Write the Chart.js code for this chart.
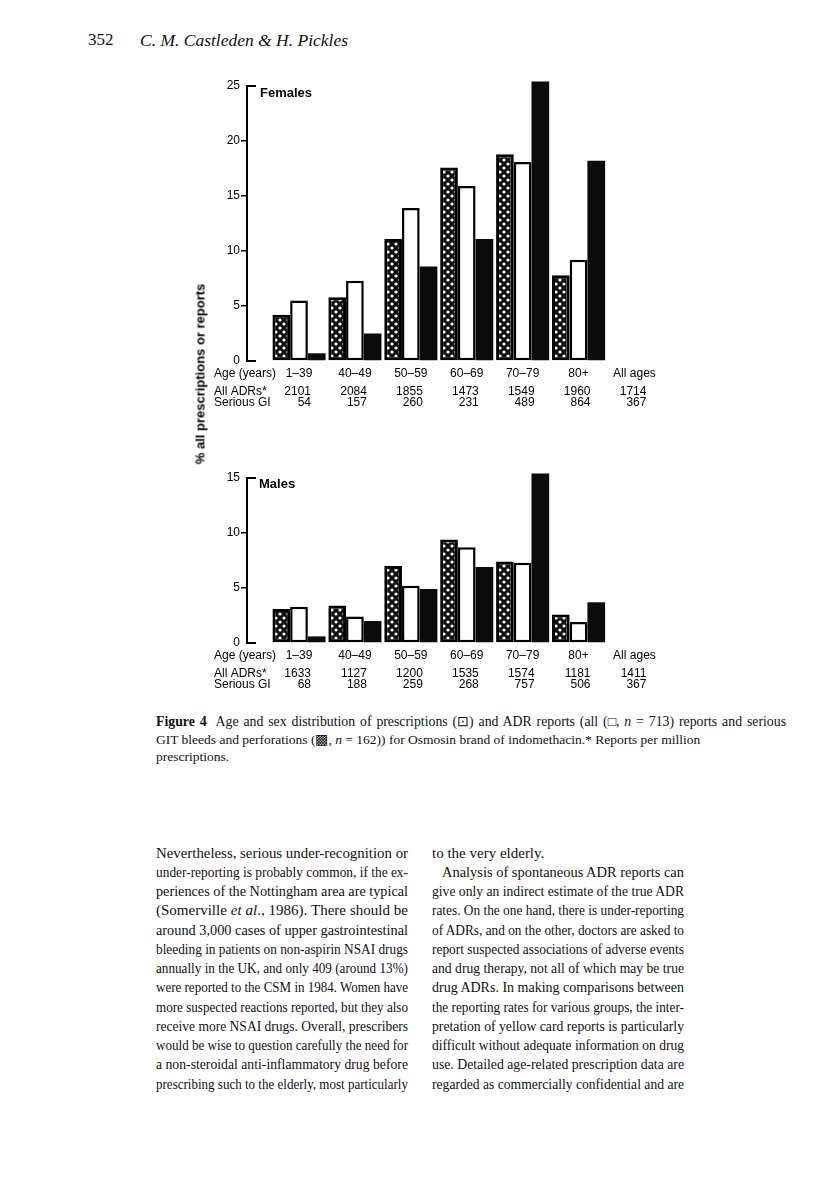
<!DOCTYPE html>
<html>
<head>
<meta charset="utf-8">
<script src="https://cdn.jsdelivr.net/npm/chart.js@4/dist/chart.umd.min.js"></script>
<style>
  html, body { margin:0; padding:0; background:#fff; }
  body { width:816px; height:1181px; position:relative; overflow:hidden; color:#111; }
  .serif { font-family:"Liberation Serif","Times New Roman",serif; }
  .ln { position:absolute; white-space:nowrap; }
  .ln span { display:inline-block; }
  canvas { position:absolute; }
  #ytitle { position:absolute; font-family:"Liberation Sans",Arial,sans-serif; font-weight:bold; font-size:13px;
            white-space:nowrap; left:200px; top:374px; transform:translate(-50%,-50%) rotate(-90deg); color:#000; }
</style>
</head>
<body>
<div class="ln serif" style="left:88px;top:30px;font-size:17px;line-height:20px;">352</div>
<div class="ln serif" style="left:140px;top:30px;font-size:17.5px;line-height:20px;font-style:italic;">C. M. Castleden &amp; H. Pickles</div>

<canvas id="female" width="480" height="350" style="left:190px;top:70px;"></canvas>
<canvas id="male" width="480" height="240" style="left:190px;top:460px;"></canvas>
<div id="ytitle">% all prescriptions or reports</div>

<div class="ln serif fit" data-w="630" style="left:156px;top:713px;font-size:13.8px;line-height:18px;"><span><b>Figure 4</b>&nbsp; Age and sex distribution of prescriptions (⊡) and ADR reports (all (□, <i>n</i> = 713) reports and serious</span></div>
<div class="ln serif" style="left:156px;top:731px;font-size:13.5px;line-height:18px;"><span>GIT bleeds and perforations (▩, <i>n</i> = 162)) for Osmosin brand of indomethacin.* Reports per million</span></div>
<div class="ln serif" style="left:156px;top:748px;font-size:13.5px;line-height:18px;"><span>prescriptions.</span></div>

<div id="body"></div>

<script>
// ---------- data ----------
const ageGroups = ['1–39','40–49','50–59','60–69','70–79','80+'];
const tableColumns = ['1–39','40–49','50–59','60–69','70–79','80+','All ages'];
const rowLabels = ['Age (years)','All ADRs*','Serious GI'];

const femalePrescriptions = [4.2, 5.8, 11.1, 17.6, 18.8, 7.8];
const femaleAllADR        = [5.5, 7.3, 13.9, 15.9, 18.1, 9.2];
const femaleSeriousGI     = [0.7, 2.5, 8.6, 11.1, 25.4, 18.2];
const femaleADRRates      = ['2101','2084','1855','1473','1549','1960','1714'];
const femaleGIRates       = ['54','157','260','231','489','864','367'];

const malePrescriptions = [3.1, 3.4, 7.0, 9.4, 7.4, 2.6];
const maleAllADR        = [3.3, 2.4, 5.2, 8.7, 7.3, 1.9];
const maleSeriousGI     = [0.6, 2.0, 4.9, 6.9, 15.4, 3.7];
const maleADRRates      = ['1633','1127','1200','1535','1574','1181','1411'];
const maleGIRates       = ['68','188','259','268','757','506','367'];

const femaleTicks = [0, 5, 10, 15, 20, 25];
const maleTicks = [0, 5, 10, 15];

// ---------- body text ----------
const leftColumn = [
 'Nevertheless, serious under-recognition or',
 'under-reporting is probably common, if the ex-',
 'periences of the Nottingham area are typical',
 '(Somerville <i>et al</i>., 1986). There should be',
 'around 3,000 cases of upper gastrointestinal',
 'bleeding in patients on non-aspirin NSAI drugs',
 'annually in the UK, and only 409 (around 13%)',
 'were reported to the CSM in 1984. Women have',
 'more suspected reactions reported, but they also',
 'receive more NSAI drugs. Overall, prescribers',
 'would be wise to question carefully the need for',
 'a non-steroidal anti-inflammatory drug before',
 'prescribing such to the elderly, most particularly'
];
const rightColumn = [
 'to the very elderly.',
 'Analysis of spontaneous ADR reports can',
 'give only an indirect estimate of the true ADR',
 'rates. On the one hand, there is under-reporting',
 'of ADRs, and on the other, doctors are asked to',
 'report suspected associations of adverse events',
 'and drug therapy, not all of which may be true',
 'drug ADRs. In making comparisons between',
 'the reporting rates for various groups, the inter-',
 'pretation of yellow card reports is particularly',
 'difficult without adequate information on drug',
 'use. Detailed age-related prescription data are',
 'regarded as commercially confidential and are'
];
(function(){
  const body = document.getElementById('body');
  function addCol(lines, x, w, noFit, indent){
    lines.forEach((t,k)=>{
      const d = document.createElement('div');
      d.className = 'ln serif' + (noFit.includes(k) ? '' : ' fit');
      const ind = indent[k] || 0;
      d.style.left = (x + ind) + 'px';
      d.style.top = (843.5 + 19.25*k) + 'px';
      d.style.fontSize = '15px';
      d.style.lineHeight = '19px';
      d.dataset.w = w - ind;
      d.innerHTML = '<span>' + t + '</span>';
      body.appendChild(d);
    });
  }
  addCol(leftColumn, 156, 252, [], {});
  addCol(rightColumn, 432, 252, [0], {1:10});
  document.querySelectorAll('.fit').forEach(el=>{
    const sp = el.querySelector('span');
    const w = +el.dataset.w;
    const nat = sp.getBoundingClientRect().width;
    if (nat < w) {
      const n = (sp.textContent.match(/[ \u00a0]/g)||[]).length;
      if (n) sp.style.wordSpacing = ((w-nat)/n) + 'px';
    } else if (nat > w) {
      sp.style.transformOrigin = 'left center';
      sp.style.transform = 'scaleX(' + (w/nat) + ')';
    }
  });
})();

// ---------- chart helpers ----------
function dotPattern(){
  const c = document.createElement('canvas'); c.width = 8; c.height = 8;
  const g = c.getContext('2d');
  g.fillStyle = '#111'; g.fillRect(0,0,8,8);
  g.fillStyle = '#fff';
  g.beginPath(); g.arc(2,2,1.6,0,Math.PI*2); g.fill();
  g.beginPath(); g.arc(6,6,1.6,0,Math.PI*2); g.fill();
  return g.createPattern(c,'repeat');
}
const pattern = dotPattern();
const FONT = '"Liberation Sans", Arial, sans-serif';

const tablePlugin = {
  id: 'ageTable',
  afterDraw(chart, args, opts){
    const ctx = chart.ctx, xs = chart.scales.x, ca = chart.chartArea, base = ca.bottom;
    ctx.save();
    ctx.fillStyle = '#000';
    ctx.textBaseline = 'middle';
    // axis caps at top and bottom
    ctx.strokeStyle = '#000'; ctx.lineWidth = 2;
    ctx.beginPath();
    ctx.moveTo(ca.left - 1, ca.top); ctx.lineTo(ca.left + 9, ca.top);
    ctx.moveTo(ca.left - 1, ca.bottom); ctx.lineTo(ca.left + 9, ca.bottom);
    ctx.stroke();
    // panel label
    ctx.font = 'bold 13px ' + FONT;
    ctx.textAlign = 'left';
    ctx.fillText(opts.title, ca.left + opts.titleDx, ca.top + opts.titleDy);
    // table
    ctx.font = '12px ' + FONT;
    const offs = [13, 31, 42];
    rowLabels.forEach((l,r)=> ctx.fillText(l, opts.labelX, base + offs[r]));
    tableColumns.forEach((c,i)=>{
      const px = xs.getPixelForValue(i);
      ctx.textAlign = 'center';
      ctx.fillText(c, px, base + offs[0]);
      ctx.textAlign = 'right';
      ctx.fillText(opts.adr[i], px + 12, base + offs[1]);
      ctx.fillText(opts.gi[i], px + 12, base + offs[2]);
    });
    ctx.restore();
  }
};

function makeChart(id, p, a, s, ticks, padTop, padBottom, title, titleDx, titleDy, adr, gi){
  const maxV = ticks[ticks.length-1];
  const toXY = arr => arr.map((v,i)=>({x:i, y:v}));
  return new Chart(document.getElementById(id), {
    type: 'bar',
    data: {
      datasets: [
        { label:'Prescriptions', data: toXY(p), backgroundColor: pattern, borderColor:'#000', borderWidth:3, borderSkipped:false, clip:false },
        { label:'All ADR reports', data: toXY(a), backgroundColor:'#fff', borderColor:'#000', borderWidth:2.5, borderSkipped:false, clip:false },
        { label:'Serious GI', data: toXY(s), backgroundColor:'#0b0b0b', borderColor:'#0b0b0b', borderWidth:0, borderSkipped:false, clip:false }
      ]
    },
    options: {
      responsive:false, animation:false, devicePixelRatio:1,
      categoryPercentage:0.95, barPercentage:1.0,
      layout: { padding: { top:padTop, bottom:padBottom, left:0, right:63.5 } },
      plugins: { legend:{display:false}, tooltip:{enabled:false},
        ageTable: { title, titleDx, titleDy, labelX:24, adr, gi } },
      scales: {
        x: { type:'linear', display:false, offset:false, grid:{offset:false}, min:-0.93, max:5.5,
             afterBuildTicks(scale){ scale.ticks = ageGroups.map((_,i)=>({value:i})); } },
        y: {
          min:0, max:maxV,
          afterFit(scale){ scale.width = 57; },
          afterBuildTicks(scale){ scale.ticks = ticks.map(v=>({value:v})); },
          border: { display:true, color:'#000', width:2 },
          grid: { drawOnChartArea:false, drawTicks:true, tickLength:6, lineWidth:1.5,
                  color: c => (c.tick && (c.tick.value===0 || c.tick.value===maxV)) ? 'rgba(0,0,0,0)' : '#000' },
          ticks: { color:'#000', padding:1, font:{ family:'"Liberation Sans", Arial, sans-serif', size:12 } }
        }
      }
    },
    plugins: [tablePlugin]
  });
}

makeChart('female', femalePrescriptions, femaleAllADR, femaleSeriousGI, femaleTicks, 16, 59, 'Females', 13, 7, femaleADRRates, femaleGIRates);
makeChart('male', malePrescriptions, maleAllADR, maleSeriousGI, maleTicks, 18, 57, 'Males', 12, 6, maleADRRates, maleGIRates);
</script>
</body>
</html>
